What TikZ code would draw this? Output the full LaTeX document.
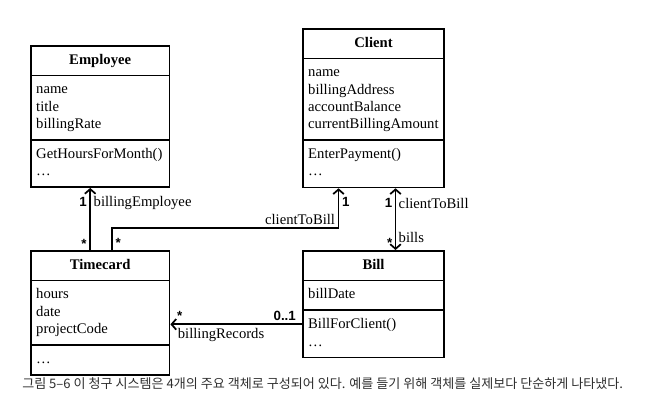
\documentclass[tikz,border=0pt]{standalone}
\usepackage{fontspec}
\setmainfont{Liberation Serif}
\setsansfont{Liberation Sans}
\newfontfamily\krfont{Noto Sans CJK KR}
\usetikzlibrary{shapes.multipart,arrows.meta,calc}

\definecolor{capgray}{HTML}{2E2E2E}

\tikzset{
  cls/.style={draw, line width=1.3pt, rectangle split, rectangle split parts=3,
    text width=#1, align=left, inner xsep=4pt, inner ysep=4pt,
    anchor=north west, font=\fontsize{11pt}{13pt}\selectfont},
  barb/.tip={Straight Barb[length=3.5pt,width=8pt,line width=1.3pt]},
  assoc/.style={line width=1.3pt, -{barb}},
  mult/.style={font=\sffamily\bfseries\fontsize{10pt}{12pt}\selectfont, inner sep=2pt},
  role/.style={font=\fontsize{11pt}{13pt}\selectfont, inner sep=2pt},
}
\newcommand{\clstitle}[1]{\makebox[\hsize][c]{\bfseries\strut #1}}

\begin{document}
\begin{tikzpicture}[x=0.75pt,y=-0.75pt]
\useasboundingbox (0,0) rectangle (652,416);

% classes
\node[cls=96pt] (emp) at (30,45) {\clstitle{Employee}
  \nodepart{two}\strut name\\title\\billingRate\strut
  \nodepart{three}\strut GetHoursForMonth()\\\dots\strut};
\node[cls=98pt] (cl) at (302,28) {\clstitle{Client}
  \nodepart{two}\strut name\\billingAddress\\accountBalance\\currentBillingAmount\strut
  \nodepart{three}\strut EnterPayment()\\\dots\strut};
\node[cls=96pt] (tc) at (30,250) {\clstitle{Timecard}
  \nodepart{two}\strut hours\\date\\projectCode\strut
  \nodepart{three}\strut\dots};
\node[cls=98pt] (bill) at (302,250) {\clstitle{Bill}
  \nodepart{two}\strut billDate
  \nodepart{three}\strut BillForClient()\\\dots\strut};

% associations
\draw[assoc] ($(tc.north)+(-10,0)$) -- ($(emp.south)+(-10,0)$)
  node[mult, left, pos=0.1] {*}
  node[mult, left, pos=0.77] {1}
  node[role, right, pos=0.76] {billingEmployee};

\coordinate (c1) at ($(tc.north)+(12,0)$);
\coordinate (c2) at ($(cl.south)+(-35,0)$);
\draw[assoc] (c1) -- node[mult, right, pos=0.32] {*} ++(0,-22)
  -| node[role, anchor=south east, pos=0.5] {clientToBill}
     node[mult, right, pos=0.83] {1} (c2);

\draw[line width=0.8pt, {barb}-{barb}]
  ($(cl.south)+(22,0)$) -- ($(bill.north)+(22,0)$)
  node[mult, left, pos=0.23] {1}
  node[role, right, pos=0.24] {clientToBill}
  node[mult, left, pos=0.89] {*}
  node[role, right, pos=0.8] {bills};

\coordinate (br) at ($(bill.two split west)+(0,14)$);
\draw[assoc] (br) -- (br -| tc.east)
  node[mult, anchor=south east, pos=0.02] {0..1}
  node[mult, anchor=south, pos=0.93] {*}
  node[role, anchor=north west, pos=0.97] {billingRecords};

% caption
\node[anchor=west, text=capgray, inner sep=0pt, font=\krfont\fontsize{9.8pt}{12pt}\selectfont] (cap)
  at (22,384) {그림 5–6 이 청구 시스템은 4개의 주요 객체로 구성되어 있다. 예를 들기 위해 객체를 실제보다 단순하게 나타냈다.};
\end{tikzpicture}
\end{document}
